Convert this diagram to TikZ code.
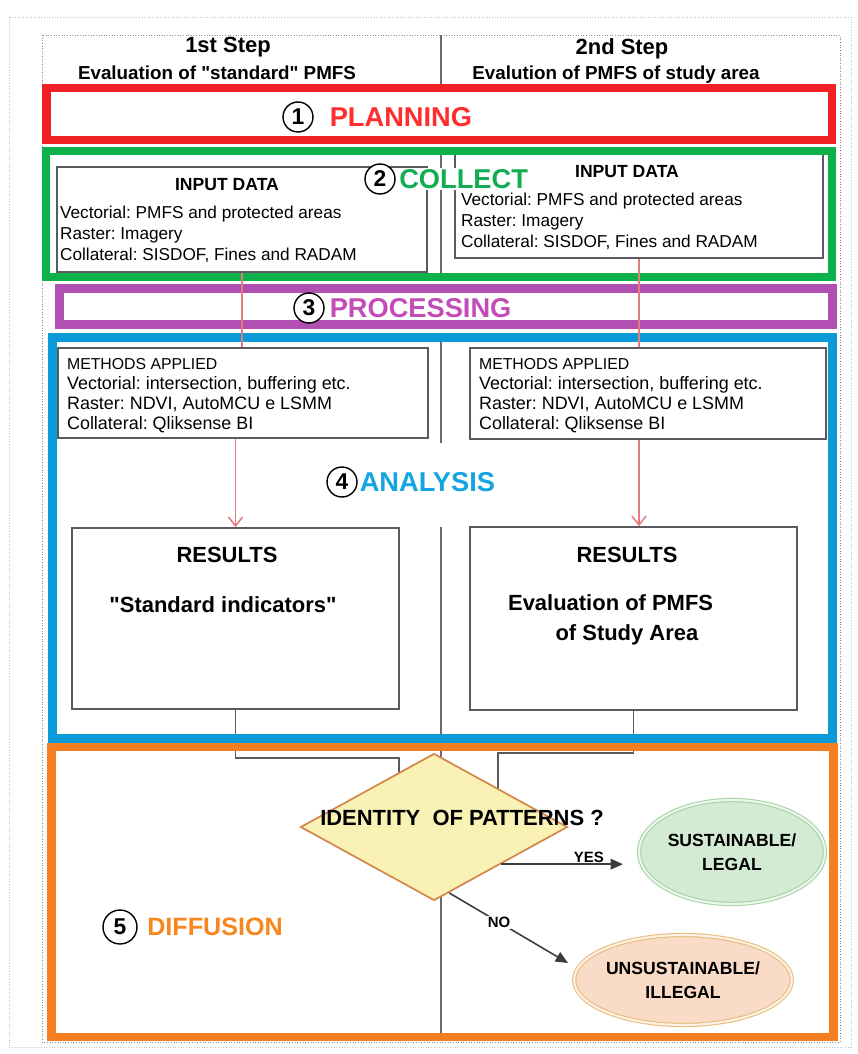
\documentclass[tikz,border=0pt]{standalone}
\usepackage{fontspec}
\newfontfamily\lsans{Liberation Sans}
\usetikzlibrary{shapes.geometric,arrows.meta,positioning}

\definecolor{planred}{HTML}{EE2024}
\definecolor{collgreen}{HTML}{0CB14B}
\definecolor{procpurple}{HTML}{B14FB3}
\definecolor{anablue}{HTML}{0A9AD8}
\definecolor{difforange}{HTML}{F57F20}
\definecolor{plantext}{HTML}{FF2D2D}
\definecolor{colltext}{HTML}{12AD52}
\definecolor{proctext}{HTML}{C24CB8}
\definecolor{anatext}{HTML}{14A4E2}
\definecolor{difftext}{HTML}{F7861E}
\definecolor{boxgray}{HTML}{5B5A60}
\definecolor{rulegray}{HTML}{6E6873}
\definecolor{framegray}{HTML}{8C8C8C}
\definecolor{feedpink}{HTML}{E57C7C}
\definecolor{diamfill}{HTML}{FAF2B5}
\definecolor{diamedge}{HTML}{D5884E}
\definecolor{okfill}{HTML}{D3EAD3}
\definecolor{okedge}{HTML}{A2D2A5}
\definecolor{badfill}{HTML}{F9DBC7}
\definecolor{badedge}{HTML}{E6BD78}
\definecolor{answergray}{HTML}{3C3C3C}

\tikzset{
  band/.style={draw=#1, line width=4.8pt},
  colrule/.style={draw=rulegray, line width=0.8pt},
  tableframe/.style={draw=framegray, densely dotted, line width=0.5pt},
  steptitle/.style={font=\bfseries\fontsize{12.5}{15}\selectfont},
  stepsub/.style={font=\bfseries\fontsize{10.7}{13}\selectfont},
  numcirc/.style={circle, draw=black, line width=0.8pt, fill=white, minimum size=0.6cm, inner sep=0pt, font=\bfseries\fontsize{13}{15}\selectfont},
  stagename/.style={text=#1, fill=white, inner sep=1pt, font=\bfseries\fontsize{15.5}{18}\selectfont},
  databox/.style={draw=boxgray, line width=1pt, fill=white, inner sep=0pt},
  boxhead/.style={font=\bfseries\fontsize{10}{12}\selectfont, inner sep=1pt},
  inputlines/.style={align=left, inner sep=1pt, font=\fontsize{9.8}{11.9}\selectfont},
  methodlines/.style={align=left, inner sep=1pt, font=\fontsize{10.2}{11.5}\selectfont},
  resulthead/.style={font=\bfseries\fontsize{12.5}{17}\selectfont, inner sep=1pt},
  feed/.style={draw=feedpink, line width=0.9pt},
  link/.style={draw=boxgray, line width=1pt},
  decision/.style={diamond, draw=diamedge, line width=1pt, fill=diamfill, inner sep=0pt},
  outcome/.style={ellipse, draw=#1edge, double=#1fill!40!white, double distance=1.2pt, line width=0.6pt, fill=#1fill, align=center, inner sep=0pt, font=\bfseries\fontsize{10}{13.6}\selectfont},
  answer/.style={draw=answergray, line width=0.9pt, -{Triangle[length=7pt,width=6pt]}},
  answerlbl/.style={font=\bfseries\fontsize{8.5}{10}\selectfont, inner sep=0.5pt},
}

\begin{document}
\lsans\frenchspacing
\begin{tikzpicture}[x=0.02cm, y=-0.02cm]
\useasboundingbox (0,0) rectangle (858,1054);

% frames
\draw[tableframe, draw=framegray!50] (9,17) rectangle (851,1047);
\draw[tableframe] (42,35) rectangle (840,1042);

% column headings
\node[steptitle] (s1)  at (228,47) {1st Step};
\node[stepsub]   (s1t) at (217,73) {Evaluation of "standard" PMFS};
\node[steptitle] (s2)  at (622,49) {2nd Step};
\node[stepsub]   (s2t) at (616,75) {Evalution of PMFS of study area};

% column rule
\draw[colrule] (441,35)  -- (441,84);
\draw[colrule] (441,151) -- (441,277);
\draw[colrule] (441,338) -- (441,443);
\draw[colrule] (441,527) -- (441,1036);

% boxes
\node[databox, minimum width=7.4cm,  minimum height=2.1cm]  (inA) at (242,219.5) {};
\node[databox, minimum width=7.36cm, minimum height=2.1cm]  (inB) at (639,205.5) {};
\node[databox, minimum width=7.4cm,  minimum height=1.8cm]  (mA)  at (243,393)   {};
\node[databox, minimum width=7.12cm, minimum height=1.82cm] (mB)  at (648,393.5) {};
\node[databox, minimum width=6.54cm, minimum height=3.62cm] (rA)  at (235.5,618.5) {};
\node[databox, minimum width=6.54cm, minimum height=3.66cm] (rB)  at (633.5,618.5) {};

\node[boxhead] (inAh) at (227,185) {INPUT DATA};
\node[inputlines, anchor=west] (inAl) at (58,234) {Vectorial: PMFS and protected areas\\Raster: Imagery\\Collateral: SISDOF, Fines and RADAM};
\node[boxhead] (inBh) at (627,172) {INPUT DATA};
\node[inputlines, anchor=west] (inBl) at (459,221) {Vectorial: PMFS and protected areas\\Raster: Imagery\\Collateral: SISDOF, Fines and RADAM};

\node[methodlines, anchor=west] (mAl) at (65,395.5) {{\fontsize{9}{11.5}\selectfont METHODS APPLIED}\\Vectorial: intersection, buffering etc.\\Raster: NDVI, AutoMCU e LSMM\\Collateral: Qliksense BI};
\node[methodlines, anchor=west] (mBl) at (477,395.5) {{\fontsize{9}{11.5}\selectfont METHODS APPLIED}\\Vectorial: intersection, buffering etc.\\Raster: NDVI, AutoMCU e LSMM\\Collateral: Qliksense BI};

\node[resulthead] (rAh) at (227,555) {RESULTS};
\node[resulthead] (rAl) at (223,605) {"Standard indicators"};
\node[resulthead] (rBh) at (627,555) {RESULTS};
\node[resulthead, align=left, anchor=west] (rBl) at (506,620) {Evaluation of PMFS\\\hspace*{27pt}of Study Area};

% links to the decision
\coordinate (jA) at (399,758);
\coordinate (jAend) at (399,800);
\coordinate (jB) at (498,753);
\coordinate (jBend) at (498,800);
\draw[link] (rA.south) |- (jA) -- (jAend);
\draw[link] (rB.south) |- (jB) -- (jBend);

% stage bands
\draw[band=planred, fill=white] (46.5,88) rectangle (832,140);
\draw[band=collgreen]  (46,151)     rectangle (832,277);
\draw[band=procpurple] (59.5,288.5) rectangle (832.5,324.5);
\draw[band=anablue]    (52.5,337.5) rectangle (832.5,738.5);
\draw[band=difforange] (51.5,747)   rectangle (833.5,1037);

% feeds
\draw[feed] (inA.south) -- (inA.south |- mA.north);
\draw[feed] (inB.south) -- (inB.south |- mB.north);
\draw[feed, -{Straight Barb[length=5pt,width=8pt]}] (rA.north |- mA.south) -- (rA.north);
\draw[feed, -{Straight Barb[length=5pt,width=8pt]}] (inB.south |- mB.south) -- (inB.south |- rB.north);

% stage titles
\node[numcirc] (n1) at (298,117) {1};
\node[stagename=plantext, right=0.28cm of n1] (t1) {PLANNING};
\node[numcirc] (n2) at (380,179) {2};
\node[stagename=colltext, right=0.03cm of n2] (t2) {COLLECT};
\node[numcirc] (n3) at (309,308) {3};
\node[stagename=proctext, right=0.06cm of n3] (t3) {PROCESSING};
\node[numcirc] (n4) at (342,482) {4};
\node[stagename=anatext, right=0cm of n4] (t4) {ANALYSIS};
\node[numcirc, minimum size=0.68cm] (n5) at (120,927) {5};
\node[stagename=difftext, right=0.15cm of n5, font=\bfseries\fontsize{14.3}{17}\selectfont] (t5) {DIFFUSION};

% decision
\node[decision, minimum width=5.34cm, minimum height=2.94cm] (dec) at (434,827) {};
\node[font=\bfseries\fontsize{12.5}{15}\selectfont] (q) at (462,818) {IDENTITY\ \ OF PATTERNS ?};

\node[outcome=ok,  minimum width=3.72cm, minimum height=2.08cm] (ok)  at (732,852) {SUSTAINABLE/\\LEGAL};
\node[outcome=bad, minimum width=4cm,    minimum height=1.8cm]  (bad) at (683,980) {UNSUSTAINABLE/\\ILLEGAL};

\coordinate (yesTip) at (623,862);
\draw[answer] (dec.south east) -- (dec.south east -| yesTip) node[answerlbl, pos=0.72, above] {YES};
\coordinate (noTip) at (568,963);
\draw[answer] (dec.-77) -- (noTip) node[answerlbl, pos=0.42, fill=white] {NO};
\end{tikzpicture}
\end{document}
